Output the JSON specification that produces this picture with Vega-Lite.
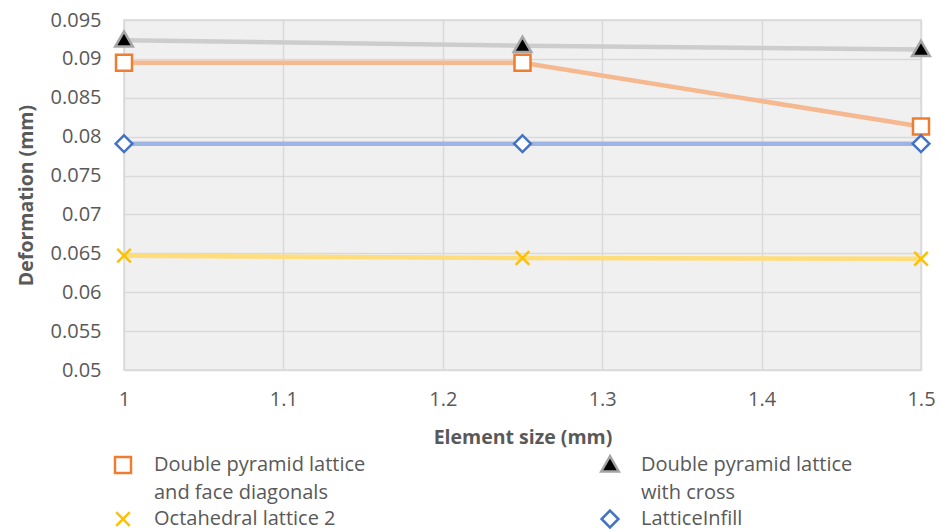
{
  "$schema": "https://vega.github.io/schema/vega-lite/v6.json",
  "width": 797,
  "height": 350,
  "autosize": {"type": "none"},
  "padding": {"left": 124, "top": 20, "right": 20, "bottom": 161},
  "background": "white",
  "config": {
    "font": "Open Sans",
    "view": {"stroke": "#d9d9d9", "strokeWidth": 1.5, "fill": "#f0f0f0"},
    "style": {"guide-label": {"lineHeight": 28}}
  },
  "data": {
    "values": [
      {"series": "Double pyramid lattice and face diagonals", "size": 1, "deformation": 0.0895},
      {"series": "Double pyramid lattice and face diagonals", "size": 1.25, "deformation": 0.0895},
      {"series": "Double pyramid lattice and face diagonals", "size": 1.5, "deformation": 0.0813},
      {"series": "Double pyramid lattice with cross", "size": 1, "deformation": 0.0924},
      {"series": "Double pyramid lattice with cross", "size": 1.25, "deformation": 0.0917},
      {"series": "Double pyramid lattice with cross", "size": 1.5, "deformation": 0.0912},
      {"series": "Octahedral lattice 2", "size": 1, "deformation": 0.0647},
      {"series": "Octahedral lattice 2", "size": 1.25, "deformation": 0.0644},
      {"series": "Octahedral lattice 2", "size": 1.5, "deformation": 0.0643},
      {"series": "LatticeInfill", "size": 1, "deformation": 0.0791},
      {"series": "LatticeInfill", "size": 1.25, "deformation": 0.0791},
      {"series": "LatticeInfill", "size": 1.5, "deformation": 0.0791}
    ]
  },
  "encoding": {
    "x": {
      "field": "size", "type": "quantitative",
      "scale": {"domain": [1, 1.5], "nice": false, "zero": false},
      "axis": {
        "title": "Element size (mm)", "values": [1, 1.1, 1.2, 1.3, 1.4, 1.5], "format": ".1~f",
        "grid": true, "gridColor": "#d9d9d9", "gridWidth": 1.5, "domain": false, "ticks": false, "labelFlush": false,
        "labelPadding": 19, "labelFontSize": 20, "labelColor": "#595959", "labelFont": "Open Sans",
        "titleFontSize": 19.5, "titleFontWeight": "bold", "titleColor": "#595959", "titleFont": "Open Sans", "titlePadding": 19
      }
    },
    "y": {
      "field": "deformation", "type": "quantitative",
      "scale": {"domain": [0.05, 0.095], "nice": false, "zero": false},
      "axis": {
        "title": "Deformation (mm)", "values": [0.05, 0.055, 0.06, 0.065, 0.07, 0.075, 0.08, 0.085, 0.09, 0.095], "format": ".3~f",
        "grid": true, "gridColor": "#d9d9d9", "gridWidth": 1.5, "domain": false, "ticks": false, "labelFlush": false,
        "labelPadding": 23, "labelFontSize": 20, "labelColor": "#595959", "labelFont": "Open Sans",
        "titleFontSize": 19.5, "titleFontWeight": "bold", "titleColor": "#595959", "titleFont": "Open Sans", "titlePadding": 14
      }
    }
  },
  "layer": [
    {
      "mark": {"type": "line", "strokeWidth": 4.5},
      "encoding": {
        "color": {
          "field": "series", "type": "nominal", "sort": null,
          "scale": {"range": ["#F5B88F", "#CDCDCD", "#FFDD7A", "#9DB5E0"]},
          "legend": null
        }
      }
    },
    {
      "mark": {"type": "point", "filled": true, "size": 256, "strokeWidth": 2.5, "opacity": 1},
      "encoding": {
        "fill": {
          "field": "series", "type": "nominal",
          "scale": {
            "domain": ["Double pyramid lattice and face diagonals", "Double pyramid lattice with cross", "Octahedral lattice 2", "LatticeInfill"],
            "range": ["#ffffff", "#000000", "transparent", "#ffffff"]
          }
        },
        "stroke": {
          "field": "series", "type": "nominal",
          "scale": {
            "domain": ["Double pyramid lattice and face diagonals", "Double pyramid lattice with cross", "Octahedral lattice 2", "LatticeInfill"],
            "range": ["#ED7D31", "#A5A5A5", "#FFC000", "#4472C4"]
          }
        },
        "shape": {
          "field": "series", "type": "nominal",
          "scale": {
            "domain": ["Double pyramid lattice and face diagonals", "Double pyramid lattice with cross", "Octahedral lattice 2", "LatticeInfill"],
            "range": ["M-1,-1H1V1H-1Z", "M0,-1.1L1.1,0.8L-1.1,0.8Z", "M-0.85,-0.85L0.85,0.85M-0.85,0.85L0.85,-0.85", "M0,-1.05L1.05,0L0,1.05L-1.05,0Z"]
          },
          "legend": {
            "title": null, "orient": "none", "legendX": -11, "legendY": 435, "columns": 2, "direction": "horizontal",
            "columnPadding": 230, "rowPadding": 2, "padding": 0,
            "symbolSize": 256, "symbolStrokeWidth": 2.5,
            "labelFont": "Open Sans", "labelFontSize": 20, "labelColor": "#595959", "labelLimit": 500,
            "labelOffset": 21, "symbolOffset": 0,
            "labelExpr": "datum.label == 'Double pyramid lattice and face diagonals' ? ['Double pyramid lattice', 'and face diagonals'] : datum.label == 'Double pyramid lattice with cross' ? ['Double pyramid lattice', 'with cross'] : datum.label"
          }
        }
      }
    }
  ]
}
